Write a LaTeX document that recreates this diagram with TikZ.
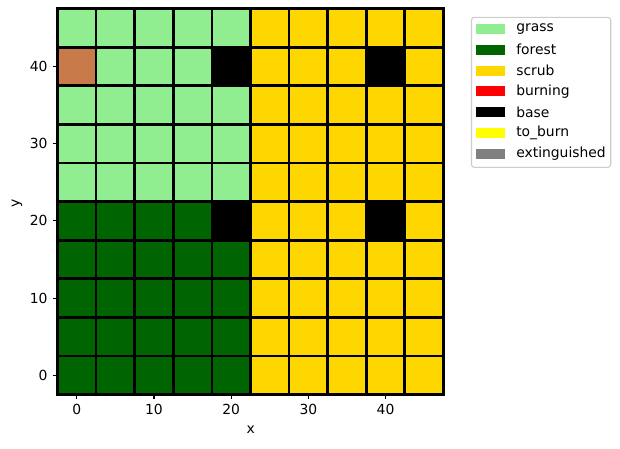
\documentclass[tikz,border=0pt]{standalone}
\usepackage{fontspec}
\setmainfont{DejaVu Sans}
\usepackage{xcolor}
\definecolor{grassc}{HTML}{90EE90}
\definecolor{forestc}{HTML}{006400}
\definecolor{scrubc}{HTML}{FFD700}
\definecolor{burnc}{HTML}{FF0000}
\definecolor{basec}{HTML}{000000}
\definecolor{toburnc}{HTML}{FFFF00}
\definecolor{extc}{HTML}{808080}
\definecolor{burntc}{RGB}{200,122,74}
\definecolor{legedge}{HTML}{CCCCCC}

\begin{document}
\begin{tikzpicture}[
    x=0.72pt, y=-0.72pt,
    % --- Styles ---
    cell/.style={draw=black, line width=2pt},
    tickline/.style={draw=black, line width=0.8pt},
    ticklabel/.style={font=\fontsize{10}{12}\selectfont, inner sep=0pt},
    axlabel/.style={font=\fontsize{10}{12}\selectfont, inner sep=0pt},
    legbox/.style={draw=legedge, fill=white, rounded corners=2pt, line width=0.8pt},
    legpatch/.style={draw=none},
    legtext/.style={font=\fontsize{10}{12}\selectfont, anchor=west, inner sep=0pt}
  ]
  \useasboundingbox (0,0) rectangle (620,448);

  % --- Grid of cells (data units) ---
  \begin{scope}[shift={(76.8,375.3)}, x=5.558pt, y=5.558pt]
    \foreach \rowcols [count=\j from 0] in {
        {forestc,forestc,forestc,forestc,forestc,scrubc,scrubc,scrubc,scrubc,scrubc},
        {forestc,forestc,forestc,forestc,forestc,scrubc,scrubc,scrubc,scrubc,scrubc},
        {forestc,forestc,forestc,forestc,forestc,scrubc,scrubc,scrubc,scrubc,scrubc},
        {forestc,forestc,forestc,forestc,forestc,scrubc,scrubc,scrubc,scrubc,scrubc},
        {forestc,forestc,forestc,forestc,basec,scrubc,scrubc,scrubc,basec,scrubc},
        {grassc,grassc,grassc,grassc,grassc,scrubc,scrubc,scrubc,scrubc,scrubc},
        {grassc,grassc,grassc,grassc,grassc,scrubc,scrubc,scrubc,scrubc,scrubc},
        {grassc,grassc,grassc,grassc,grassc,scrubc,scrubc,scrubc,scrubc,scrubc},
        {burntc,grassc,grassc,grassc,basec,scrubc,scrubc,scrubc,basec,scrubc},
        {grassc,grassc,grassc,grassc,grassc,scrubc,scrubc,scrubc,scrubc,scrubc}}
      \foreach \c [count=\i from 0] in \rowcols
        \filldraw[cell, fill=\c] ({5*\i-2.5},{5*\j-2.5}) rectangle ++(5,5);

    % frame
    \draw[tickline] (-2.5,-2.5) rectangle (47.5,47.5);

    % ticks
    \foreach \t in {0,10,20,30,40} {
      \draw[tickline] (\t,-2.5) -- ++(0pt,-3.5pt) coordinate (xt\t);
      \node[ticklabel, anchor=north, yshift=-3.5pt] (xl\t) at (xt\t) {\t};
      \draw[tickline] (-2.5,\t) -- ++(-3.5pt,0pt) coordinate (yt\t);
      \node[ticklabel, anchor=east, xshift=-3.5pt] (yl\t) at (yt\t) {\t};
    }
  \end{scope}

  % axis labels
  \node[axlabel] (xlab) at (250.7,430) {x};
  \node[axlabel, rotate=90] (ylab) at (17,203) {y};

  % --- Legend ---
  \draw[legbox] (471.5,17.3) rectangle (610.7,167.3);
  \foreach \name/\col [count=\k from 0] in {grass/grassc, forest/forestc, scrub/scrubc,
      burning/burnc, base/basec, to\_burn/toburnc, extinguished/extc} {
    \fill[legpatch, fill=\col] (476,{29+20.8*\k-5}) rectangle ++(29,10);
    \node[legtext] (leg\k) at (516,{29+20.8*\k}) {\name};
  }
\end{tikzpicture}
\end{document}
